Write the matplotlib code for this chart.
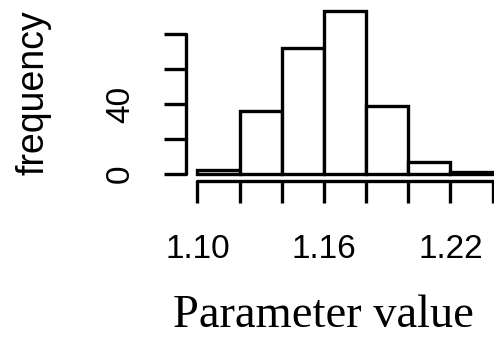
import numpy as np
import matplotlib
matplotlib.use('Agg')
import matplotlib.pyplot as plt

# histogram data
bin_edges = [1.10, 1.12, 1.14, 1.16, 1.18, 1.20, 1.22, 1.24]
counts = [2, 36, 72, 93, 39, 7, 1]

x_ticks = [1.10, 1.12, 1.14, 1.16, 1.18, 1.20, 1.22, 1.24]
x_tick_labels = ['1.10', '', '', '1.16', '', '', '1.22', '']
y_ticks = [0, 20, 40, 60, 80]
y_tick_labels = ['0', '', '40', '', '']

W, H = 494, 338
LW = 2.4

plt.rcParams['font.family'] = ['Liberation Sans', 'DejaVu Sans']

fig = plt.figure(figsize=(W / 100, H / 100), dpi=100)
# axes placed in pixel terms (R-style plot region, 4% padding)
left, right, top, bottom = 185.5, 504.5, 4.7, 180.5
ax = fig.add_axes([left / W, (H - bottom) / H, (right - left) / W, (bottom - top) / H])

ax.bar(bin_edges[:-1], counts, width=np.diff(bin_edges), align='edge',
       facecolor='white', edgecolor='black', linewidth=LW)

pad_x = 0.04 * (bin_edges[-1] - bin_edges[0])
pad_y = 0.04 * max(counts)
ax.set_xlim(bin_edges[0] - pad_x, bin_edges[-1] + pad_x)
ax.set_ylim(-pad_y, max(counts) + pad_y)

for s in ['top', 'right']:
    ax.spines[s].set_visible(False)
ax.spines['left'].set_bounds(0, 80)
ax.spines['bottom'].set_bounds(bin_edges[0], bin_edges[-1])
for s in ['left', 'bottom']:
    ax.spines[s].set_linewidth(LW)
    ax.spines[s].set_capstyle('round')

ax.set_xticks(x_ticks)
ax.set_xticklabels(x_tick_labels)
ax.set_yticks(y_ticks)
ax.set_yticklabels(y_tick_labels, rotation=90, va='center')
ax.tick_params(axis='both', direction='out', length=15.5, width=LW, labelsize=24)
ax.tick_params(axis='x', pad=23)
ax.tick_params(axis='y', pad=20)

fig.text(33 / W, 1 - 92.5 / H, 'frequency', rotation=90, ha='center', va='center', fontsize=27)
fig.text(323 / W, 1 - 327 / H, 'Parameter value', ha='center', va='baseline',
         fontsize=33.5, family=['Liberation Serif', 'DejaVu Serif'])

fig.savefig('out.png', dpi=100)
